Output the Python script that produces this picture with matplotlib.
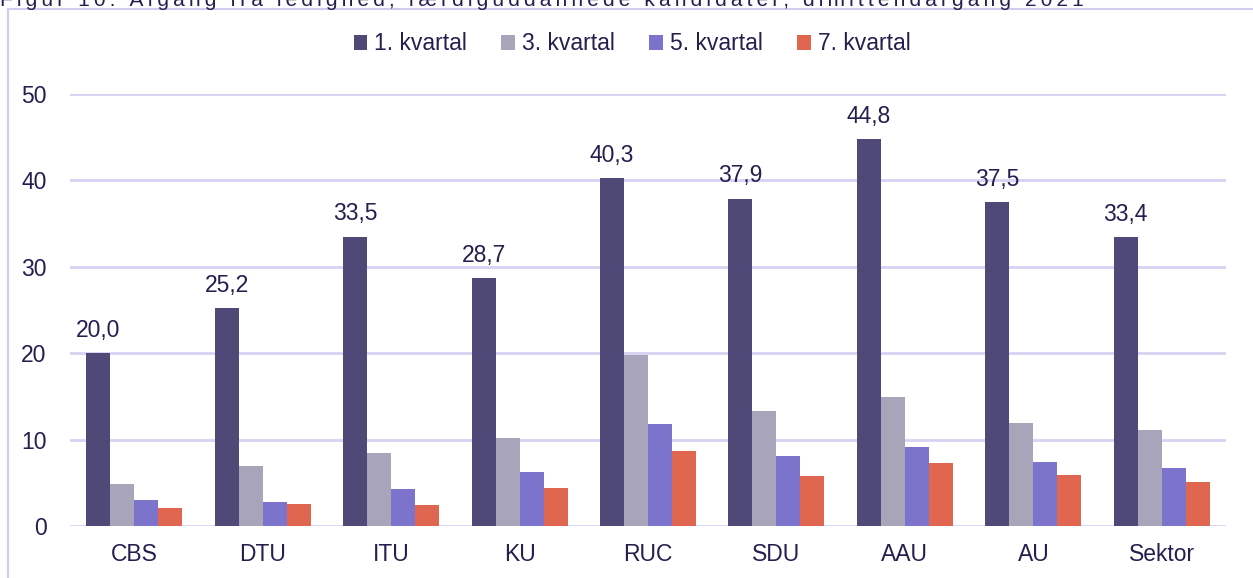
import matplotlib
matplotlib.use('AGG')
import matplotlib.pyplot as plt
from matplotlib.patches import Rectangle
import numpy as np

categories = ["CBS", "DTU", "ITU", "KU", "RUC", "SDU", "AAU", "AU", "Sektor"]
series_names = ["1. kvartal", "3. kvartal", "5. kvartal", "7. kvartal"]
kv1 = [20.0, 25.2, 33.5, 28.7, 40.3, 37.9, 44.8, 37.5, 33.4]
kv3 = [4.9, 6.9, 8.5, 10.2, 19.8, 13.3, 14.9, 11.9, 11.1]
kv5 = [3.0, 2.8, 4.3, 6.2, 11.8, 8.1, 9.1, 7.4, 6.7]
kv7 = [2.1, 2.5, 2.4, 4.4, 8.7, 5.8, 7.3, 5.9, 5.1]
colors = ["#4e4976", "#a8a4ba", "#7b73cc", "#e06650"]
title = "Figur 10: Afgang fra ledighed, færdiguddannede kandidater, dimittendårgang 2021"

text_col = "#231f4f"
grid_col = "#d6d2f2"
fs = 16.5
plt.rcParams['font.family'] = ['Liberation Sans', 'DejaVu Sans']

W, H = 1253, 578
fig = plt.figure(figsize=(W / 100, H / 100), dpi=100)
ax = fig.add_axes([70 / W, (H - 526) / H, (1226 - 70) / W, (526 - 94) / H])

x = np.arange(len(categories))
bw = 0.187
all_series = [kv1, kv3, kv5, kv7]
bars = []
for i, vals in enumerate(all_series):
    b = ax.bar(x + (i - 1.5) * bw, vals, width=bw, color=colors[i],
               label=series_names[i], zorder=3)
    bars.append(b)

# labels on 1. kvartal only
for rect, v in zip(bars[0], kv1):
    ax.annotate(f"{v:.1f}".replace('.', ','),
                xy=(rect.get_x() + rect.get_width() / 2, rect.get_height()),
                xytext=(0, 8), textcoords="offset points",
                ha='center', va='bottom', fontsize=fs, color=text_col,
                annotation_clip=False)

ax.set_xlim(-0.5, len(categories) - 0.5)
ax.set_ylim(0, 50)
ax.set_yticks([0, 10, 20, 30, 40, 50])
ax.set_xticks(x)
ax.set_xticklabels(categories)
ax.tick_params(axis='both', length=0, labelsize=fs, colors=text_col)
ax.tick_params(axis='y', pad=17)
ax.tick_params(axis='x', pad=12)
ax.grid(axis='y', color=grid_col, linewidth=2, zorder=0)
for s in ax.spines.values():
    s.set_visible(False)

leg = fig.legend(loc='center', bbox_to_anchor=(632 / W, 1 - 44 / H), ncol=4,
                 frameon=False, fontsize=fs, handlelength=0.6, handleheight=0.6,
                 handletextpad=0.3, columnspacing=1.5)
for t in leg.get_texts():
    t.set_color(text_col)

# outer frame, partly cut off
fig.add_artist(Rectangle((8 / W, -0.1), 2, 1.1 - 9 / H, transform=fig.transFigure,
                         fill=False, edgecolor="#d0ccf0", linewidth=1.5))

# title, mostly cut off at the top
spaced = "\u2009".join(title)
fig.text(0.0, 1 - 6 / H, spaced, ha='left', va='baseline', fontsize=15,
         color=text_col)

plt.savefig("out.png", dpi=100)
